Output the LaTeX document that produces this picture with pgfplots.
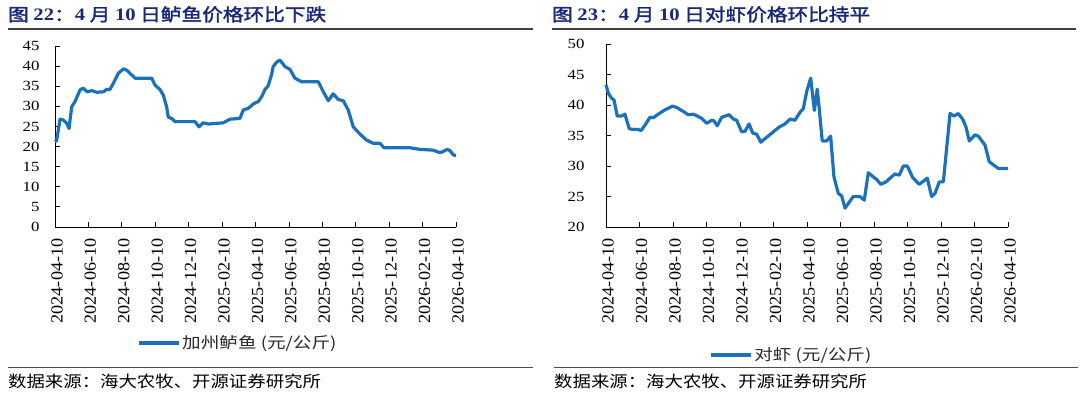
\documentclass[border=0pt]{standalone}
\usepackage{fontspec}
\usepackage{pgfplots}
\pgfplotsset{compat=1.18}
\setmainfont{Liberation Serif}
\newfontfamily\cjk[FakeStretch=1.2]{Noto Sans CJK SC}
\newfontfamily\cjkt[FakeStretch=1.18,FakeBold=2]{Noto Sans CJK SC}
\newfontfamily\serift[FakeStretch=1.18]{Liberation Serif}
\newfontfamily\ytf[FakeStretch=1.2]{Liberation Serif}
\newfontfamily\xtf[FakeStretch=1.07]{Liberation Serif}
\newfontfamily\srcf[FakeStretch=1.15]{Noto Sans CJK SC}
\definecolor{titleblue}{RGB}{25,40,120}
\definecolor{lineblue}{RGB}{28,114,186}
\definecolor{legtext}{RGB}{40,40,40}

\pgfplotsset{
  panel/.style={
    scale only axis, anchor=south west,
    xmin=0, xmax=24,
    axis lines=left,
    axis line style={-, black, line width=0.8pt},
    tick align=inside, major tick length=5pt,
    tick style={black, line width=0.8pt},
    xtick={0,2,...,24},
    xticklabels={2024-04-10,2024-06-10,2024-08-10,2024-10-10,2024-12-10,2025-02-10,2025-04-10,2025-06-10,2025-08-10,2025-10-10,2025-12-10,2026-02-10,2026-04-10},
    x tick label style={rotate=90, anchor=east, xshift=-8pt, yshift=-2pt, font={\fontsize{17pt}{17pt}\selectfont\xtf}},
    /pgf/number format/assume math mode=true,
    y tick label style={font={\fontsize{14pt}{14pt}\selectfont\ytf}},
    clip=false,
    legend image code/.code={\draw[#1] (0pt,0pt) -- (40pt,0pt);},
    legend style={draw=none, fill=none, inner sep=0pt, anchor=west,
      font={\fontsize{15.5pt}{16pt}\selectfont\cjk\color{legtext}},
      /tikz/every even column/.append style={column sep=0pt}},
  }
}

\begin{document}
\begin{tikzpicture}
\path[use as bounding box] (0,0) rectangle (1080pt,398pt);

% ---------- Left panel ----------
\node[anchor=base west, text=titleblue, inner sep=0pt] at (8pt,377pt)
  {\fontsize{17.5pt}{18pt}\selectfont\cjkt 图 {\serift\bfseries 22}：{\serift\bfseries 4} 月 {\serift\bfseries 10} 日鲈鱼价格环比下跌};
\draw[line width=1.2pt, black!75] (8pt,369pt) -- (533pt,369pt);
\draw[line width=1pt, black!70] (8pt,30pt) -- (533pt,30pt);
\node[anchor=base west, inner sep=0pt] at (8pt,10pt)
  {\fontsize{16pt}{16pt}\selectfont\srcf 数据来源：海大农牧、开源证券研究所};

\begin{axis}[panel, at={(55pt,171pt)}, width=401pt, height=181pt,
  ymin=0, ymax=45, ytick={0,5,...,45},
  y tick label style={xshift=-12pt},
  legend style={at={(0.204,-0.641)}}]
\addplot[lineblue, line width=3.2pt, line join=round] coordinates {
(0,21.2)(0.1,21.5)(0.3,26.8)(0.5,26.6)(0.7,25.8)(0.84,24.5)(1.0,29.9)(1.2,31.2)
(1.5,34.1)(1.69,34.5)(1.93,33.6)(2.2,33.9)(2.5,33.5)(2.89,33.6)(3.09,34.2)(3.29,34.2)
(3.49,35.7)(3.79,38.2)(4.09,39.3)(4.29,39.0)(4.59,37.8)(4.79,37.0)(5.79,37.0)(5.98,35.3)
(6.28,34.2)(6.48,32.8)(6.68,29.9)(6.78,27.3)(6.98,27.0)(7.18,26.2)(8.38,26.2)(8.62,24.9)
(8.87,25.9)(9.17,25.6)(10.07,25.9)(10.47,26.8)(11.07,27.0)(11.27,29.1)(11.57,29.5)(11.87,30.6)
(12.17,31.2)(12.37,32.4)(12.57,34.2)(12.76,35.1)(12.97,38.0)(13.06,39.9)(13.27,41.0)(13.46,41.5)
(13.76,39.9)(14.06,39.2)(14.36,37.0)(14.76,36.1)(15.76,36.1)(16.06,33.6)(16.36,31.4)(16.65,33.1)
(16.95,31.7)(17.25,31.4)(17.55,29.1)(17.85,24.9)(18.25,23.1)(18.65,21.6)(19.05,20.8)(19.45,20.8)
(19.69,19.7)(21.24,19.7)(21.84,19.3)(22.64,19.1)(22.94,18.6)(23.14,18.6)(23.48,19.3)(23.64,19.0)
(23.84,17.9)(24.0,17.8)
};
\addlegendentry{加州鲈鱼 (元/公斤)}
\end{axis}

% ---------- Right panel ----------
\node[anchor=base west, text=titleblue, inner sep=0pt] at (552pt,377pt)
  {\fontsize{17.5pt}{18pt}\selectfont\cjkt 图 {\serift\bfseries 23}：{\serift\bfseries 4} 月 {\serift\bfseries 10} 日对虾价格环比持平};
\draw[line width=1.2pt, black!75] (552pt,369pt) -- (1076pt,369pt);
\draw[line width=1pt, black!70] (554pt,30pt) -- (1078pt,30pt);
\node[anchor=base west, inner sep=0pt] at (554pt,10pt)
  {\fontsize{16pt}{16pt}\selectfont\srcf 数据来源：海大农牧、开源证券研究所};

\begin{axis}[panel, at={(606pt,171pt)}, width=402pt, height=183pt,
  ymin=20, ymax=50, ytick={20,25,...,50},
  y tick label style={xshift=-18pt},
  legend style={at={(0.256,-0.70)}}]
\addplot[lineblue, line width=3.2pt, line join=round] coordinates {
(0,43.3)(0.14,41.9)(0.34,41.1)(0.48,40.8)(0.67,38.2)(0.94,38.2)(1.13,38.5)(1.39,36.1)
(1.63,36.0)(1.93,36.0)(2.09,35.8)(2.33,36.7)(2.63,38.0)(2.82,37.9)(3.12,38.5)(3.52,39.2)
(3.96,39.8)(4.22,39.6)(4.52,39.1)(4.91,38.4)(5.21,38.5)(5.45,38.2)(5.71,37.8)(6.01,37.0)
(6.31,37.5)(6.45,37.4)(6.64,36.6)(6.91,38.0)(7.36,38.4)(7.60,37.7)(7.80,37.5)(8.10,35.6)
(8.30,35.7)(8.54,36.9)(8.76,35.4)(9.00,35.2)(9.24,33.9)(9.59,34.7)(9.99,35.6)(10.35,36.4)
(10.69,36.9)(10.99,37.7)(11.28,37.5)(11.58,38.8)(11.78,39.4)(11.98,42.2)(12.22,44.4)(12.44,39.1)
(12.61,42.6)(12.72,39.7)(12.91,34.1)(13.18,34.1)(13.41,34.9)(13.61,28.2)(13.87,25.5)(14.07,25.1)
(14.27,23.1)(14.53,24.1)(14.76,25.0)(15.16,25.0)(15.42,24.4)(15.66,28.9)(15.96,28.2)(16.16,27.8)
(16.40,27.0)(16.72,27.4)(17.00,28.1)(17.25,28.7)(17.51,28.5)(17.75,30.0)(17.99,30.0)(18.31,28.1)
(18.70,27.0)(18.99,27.6)(19.18,28.0)(19.44,25.0)(19.64,25.5)(19.90,27.4)(20.14,27.4)(20.54,38.6)
(20.78,38.2)(21.03,38.6)(21.29,37.7)(21.49,36.4)(21.69,34.1)(22.03,35.1)(22.23,34.9)(22.63,33.4)
(22.88,30.7)(23.12,30.2)(23.42,29.6)(24.0,29.6)
};
\addlegendentry{对虾 (元/公斤)}
\end{axis}
\end{tikzpicture}
\end{document}
